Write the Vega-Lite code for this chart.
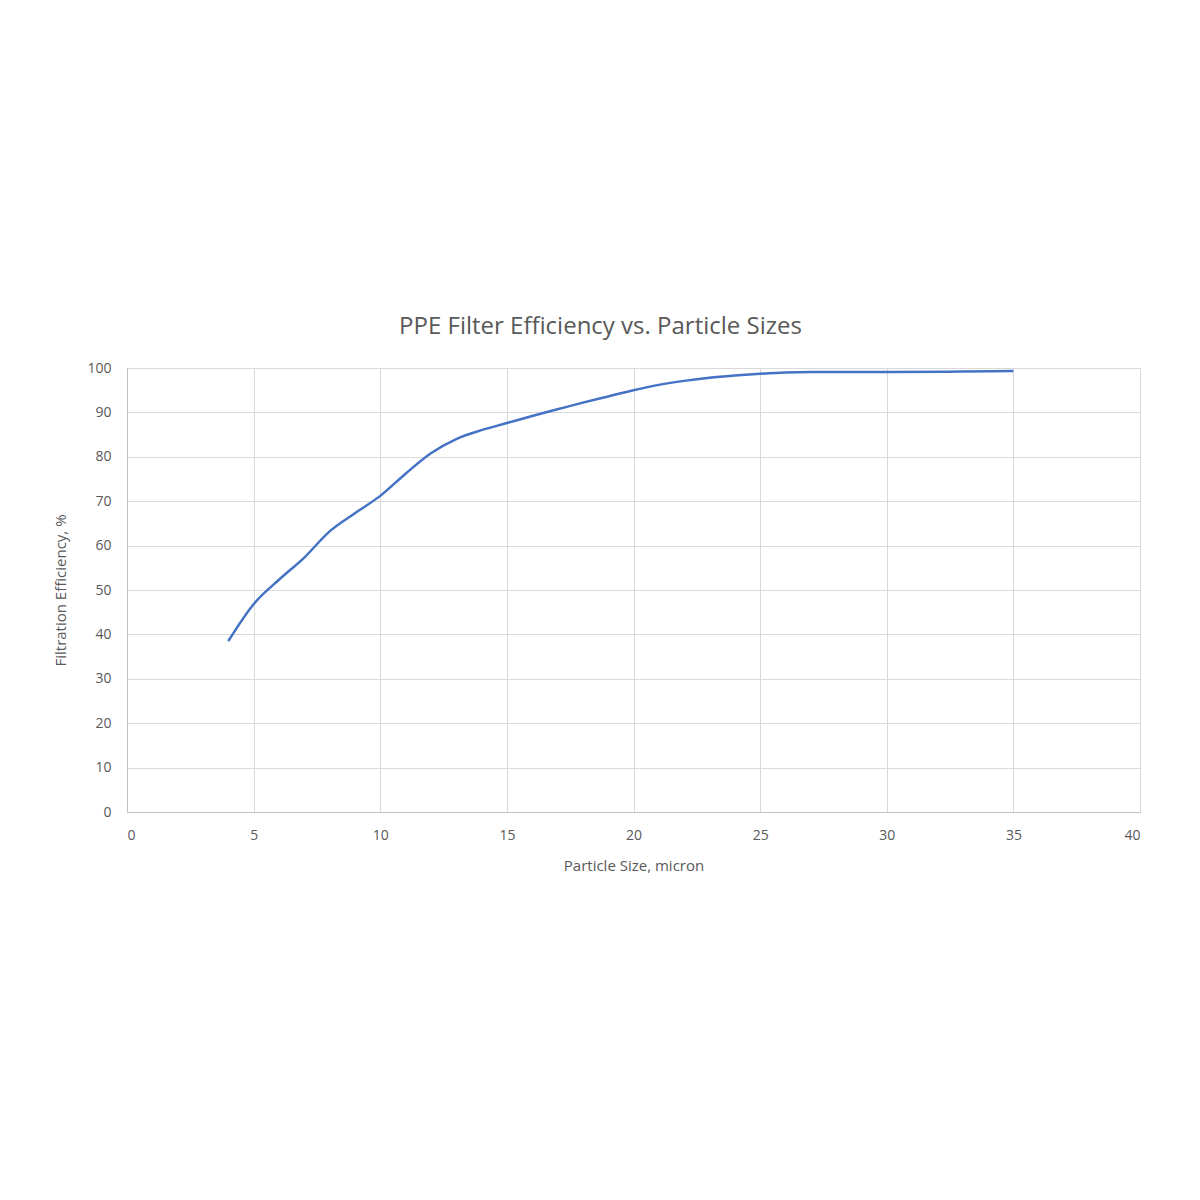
{
  "$schema": "https://vega.github.io/schema/vega-lite/v6.json",
  "background": "white",
  "autosize": "none",
  "width": 1013,
  "height": 444,
  "padding": {"left": 127, "top": 368, "right": 60, "bottom": 388},
  "title": {
    "text": "PPE Filter Efficiency vs. Particle Sizes",
    "font": "Open Sans",
    "fontSize": 24,
    "fontWeight": "normal",
    "color": "#595959",
    "anchor": "middle",
    "dx": -33,
    "offset": 22
  },
  "data": {
    "values": [
      {"size": 4, "efficiency": 38.5},
      {"size": 5, "efficiency": 46.8},
      {"size": 6, "efficiency": 52.3},
      {"size": 7, "efficiency": 57.3},
      {"size": 8, "efficiency": 63.2},
      {"size": 9, "efficiency": 67.3},
      {"size": 10, "efficiency": 71.2},
      {"size": 11, "efficiency": 76.2},
      {"size": 12, "efficiency": 80.8},
      {"size": 13, "efficiency": 84.0},
      {"size": 14, "efficiency": 86.0},
      {"size": 15, "efficiency": 87.6},
      {"size": 16, "efficiency": 89.2},
      {"size": 17, "efficiency": 90.7},
      {"size": 18, "efficiency": 92.2},
      {"size": 19, "efficiency": 93.6},
      {"size": 20, "efficiency": 95.0},
      {"size": 21, "efficiency": 96.2},
      {"size": 22, "efficiency": 97.1},
      {"size": 23, "efficiency": 97.8},
      {"size": 24, "efficiency": 98.3},
      {"size": 25, "efficiency": 98.7},
      {"size": 26, "efficiency": 99.0},
      {"size": 27, "efficiency": 99.1},
      {"size": 30, "efficiency": 99.1},
      {"size": 33, "efficiency": 99.2},
      {"size": 35, "efficiency": 99.3}
    ]
  },
  "mark": {
    "type": "line",
    "interpolate": "monotone",
    "color": "#4472c4",
    "strokeWidth": 2.5
  },
  "encoding": {
    "x": {
      "field": "size",
      "type": "quantitative",
      "title": "Particle Size, micron",
      "scale": {"domain": [0, 40], "nice": false},
      "axis": {"values": [0, 5, 10, 15, 20, 25, 30, 35, 40], "titlePadding": 16}
    },
    "y": {
      "field": "efficiency",
      "type": "quantitative",
      "title": "Filtration Efficiency, %",
      "scale": {"domain": [0, 100], "nice": false},
      "axis": {"values": [0, 10, 20, 30, 40, 50, 60, 70, 80, 90, 100], "titlePadding": 18}
    }
  },
  "config": {
    "view": {"stroke": null},
    "axis": {
      "labelFont": "Open Sans",
      "labelFontSize": 14,
      "labelColor": "#595959",
      "titleFont": "Open Sans",
      "titleFontSize": 15,
      "titleFontWeight": "normal",
      "titleColor": "#595959",
      "gridColor": "#d9d9d9",
      "gridWidth": 1,
      "domainColor": "#bfbfbf",
      "ticks": false,
      "labelPadding": 16
    }
  }
}
